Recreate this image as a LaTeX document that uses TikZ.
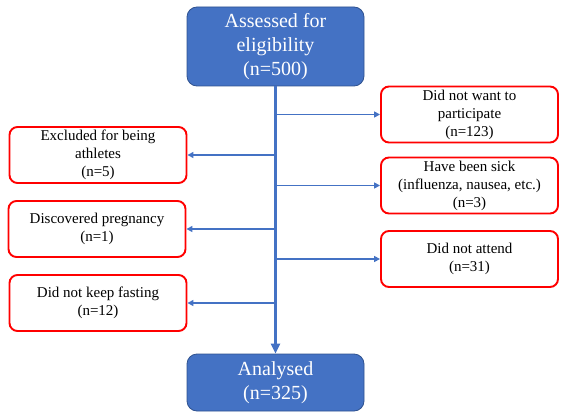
\documentclass[tikz,border=0pt]{standalone}
\usepackage{fontspec}
\setmainfont{Liberation Serif}
\usetikzlibrary{arrows.meta}
\definecolor{obl}{HTML}{4472C4}
\definecolor{obld}{HTML}{2F528F}
\begin{document}
\begin{tikzpicture}[x=1pt,y=-1pt,
  bluebox/.style={draw=obld, line width=0.8pt, fill=obl, rounded corners=10pt, text=white, align=center,
    minimum width=177pt, inner sep=0pt, font=\fontsize{20}{24}\selectfont},
  redbox/.style={draw=red, line width=1.9pt, fill=white, rounded corners=8pt, align=center,
    minimum width=177pt, minimum height=56pt, inner sep=0pt, font=\fontsize{15}{18}\selectfont},
  branch/.style={draw=obl, line width=1.7pt, -{Triangle[length=6pt,width=6pt]}},
  trunk/.style={draw=obl, line width=3pt, -{Triangle[length=10pt,width=9pt]}}]
\useasboundingbox (0,0) rectangle (567,417);
\node[bluebox, minimum height=79pt] (top) at (275.5,46.5) {Assessed for\\eligibility\\(n=500)};
\node[bluebox, minimum height=57pt] (bot) at (275.5,382.5) {Analysed\\(n=325)};
\node[redbox] (l1) at (98,155) {Excluded for being\\athletes\\(n=5)};
\node[redbox] (l2) at (97,229) {Discovered pregnancy\\(n=1)};
\node[redbox] (l3) at (98,303) {Did not keep fasting\\(n=12)};
\node[redbox] (r1) at (469.5,114.5) {Did not want to\\participate\\(n=123)};
\node[redbox] (r2) at (469.5,185.5) {Have been sick\\(influenza, nausea, etc.)\\(n=3)};
\node[redbox] (r3) at (469.5,259) {Did not attend\\(n=31)};
\draw[trunk] (top.south) -- (bot.north);
\coordinate (cl1) at (top.south |- l1.east);
\coordinate (cl2) at (top.south |- l2.east);
\coordinate (cl3) at (top.south |- l3.east);
\coordinate (cr1) at (top.south |- r1.west);
\coordinate (cr2) at (top.south |- r2.west);
\coordinate (cr3) at (top.south |- r3.west);
\draw[branch] (cl1) -- (l1.east);
\draw[branch] (cl2) -- (l2.east);
\draw[branch] (cl3) -- (l3.east);
\draw[branch] (cr1) -- (r1.west);
\draw[branch] (cr2) -- (r2.west);
\draw[branch] (cr3) -- (r3.west);
\end{tikzpicture}
\end{document}
